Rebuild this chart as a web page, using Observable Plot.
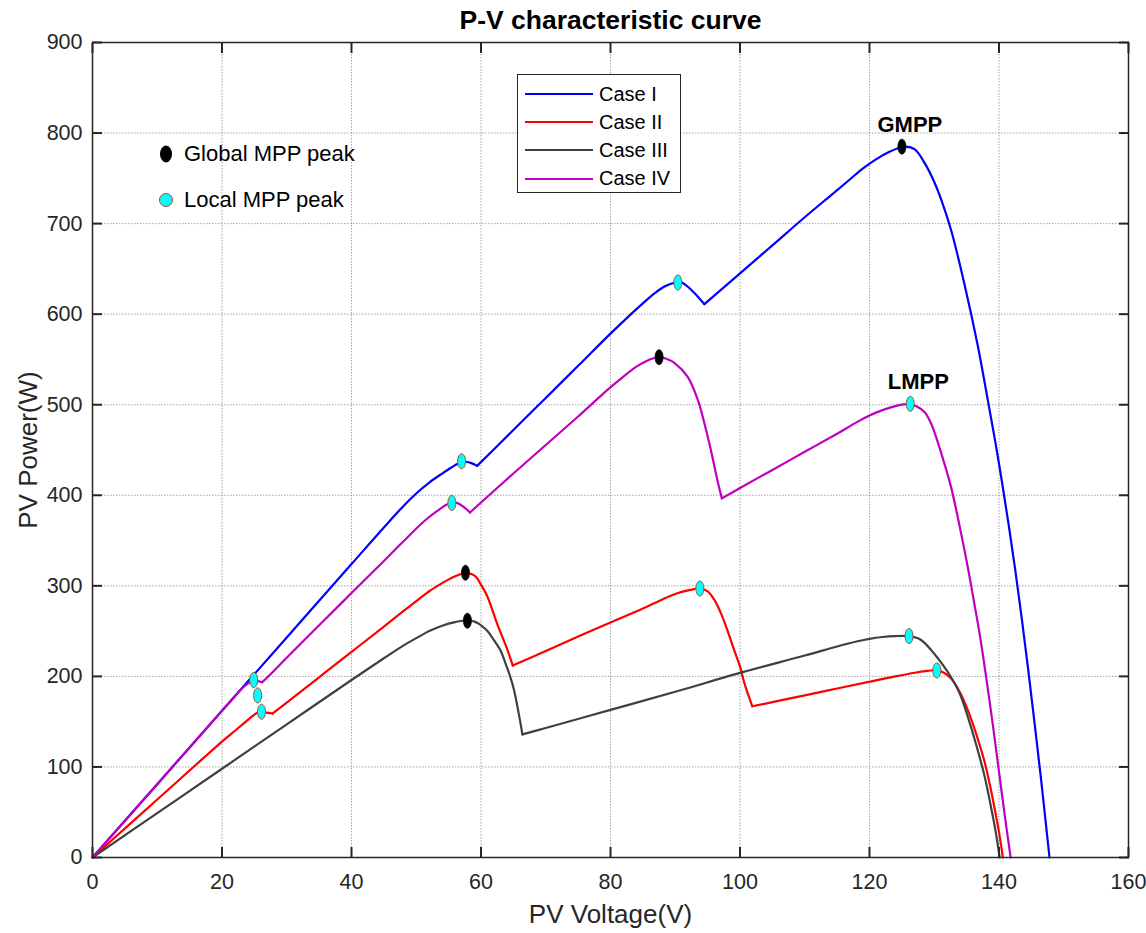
<!DOCTYPE html>
<html>
<head>
<meta charset="utf-8">
<script src="https://cdn.jsdelivr.net/npm/d3@7"></script>
<script src="https://cdn.jsdelivr.net/npm/@observablehq/plot@0.6"></script>
<style>
  html, body { margin: 0; padding: 0; background: #fff; }
  #wrap { position: relative; width: 1146px; height: 933px; font-family: "Liberation Sans", Arial, sans-serif; color: #000; }
  #legend { position: absolute; left: 517px; top: 74px; width: 164px; height: 119px; border: 1.3px solid #262626; background: #fff; box-sizing: border-box; }
  .lrow { position: absolute; left: 0; height: 24px; display: flex; align-items: center; font-size: 20px; }
  .lrow .sw { width: 68px; height: 2px; margin-left: 7px; margin-right: 6px; }
  #mpp { position: absolute; left: 155px; top: 140px; font-size: 22px; }
  .mrow { position: absolute; left: 0; display: flex; align-items: center; white-space: nowrap; height: 28px; }
  .mrow svg { margin-right: 7px; }
</style>
</head>
<body>
<div id="wrap"></div>
<script>
// ---------- data ----------
const caseNames = ["Case I", "Case II", "Case III", "Case IV"];
const xTicks = [0, 20, 40, 60, 80, 100, 120, 140, 160];
const yTicks = [0, 100, 200, 300, 400, 500, 600, 700, 800, 900];

const case1V = [0, 10, 20, 30, 40, 45, 48, 50, 52, 54, 55.5, 56.5, 57.5, 58.5, 59.4, 65, 70, 75, 80, 83, 85, 87, 88.5, 90, 90.5, 91, 92, 93, 94.5, 100, 105, 110, 114, 117, 119, 121, 123, 124.5, 125.5, 127, 128.5, 130, 131.1, 132.6, 134.7, 136.7, 138.3, 139.5, 140.5, 141.5, 142.5, 143.5, 144.5, 145.5, 146.5, 147.8];
const case1P = [0, 81, 162, 243, 324, 364.5, 388, 402, 414, 424, 431, 435, 437, 435.5, 432.5, 472, 507.5, 543, 578.5, 599, 612, 624, 631, 635, 635.5, 635, 630, 623, 611, 645, 676, 707, 731, 749, 761, 771, 779, 783.5, 785, 782, 767, 746, 726, 693, 632, 566, 504, 456, 413, 367, 318, 265, 208, 148, 86, 0];
const case1Breaks = [59.4, 94.5];

const case2V = [0, 10, 20, 22, 23.5, 24.5, 25.7, 26.8, 27.8, 30, 35, 40, 45, 48, 50.7, 52, 54, 55.5, 56.5, 57.5, 58.5, 59.2, 60.1, 61, 62.5, 64.1, 64.9, 70, 75, 80, 85, 88, 90, 92, 93.9, 95, 96, 97.1, 98.1, 99.1, 100, 100.7, 101.9, 110, 115, 119.7, 124, 127, 129, 130.4, 131.5, 132.6, 134, 135.2, 136.5, 137.8, 138.6, 139.3, 140, 140.6];
const case2P = [0, 64, 128, 140, 149, 155, 160.5, 160, 159, 171, 199, 227, 255, 272, 287, 294, 303, 309, 312, 314, 313, 310, 300, 288, 258, 229, 212, 228, 244, 259.5, 275, 285, 291, 295, 297, 294, 285, 269, 250, 229, 211, 192, 167, 179, 186.6, 193.6, 200, 204, 206, 207, 204, 197.6, 182, 162.5, 136, 105, 80, 55, 28, 0];
const case2Breaks = [27.8, 64.9, 101.9];

const case3V = [0, 10, 20, 30, 40, 45, 48, 50.7, 52, 54, 56, 57.9, 59, 59.7, 61, 62, 63, 63.8, 64.5, 65.1, 65.8, 66.4, 70, 80, 90, 99.6, 110, 115, 118, 120, 122, 124, 126.1, 127.5, 128.5, 130, 131.3, 132.6, 134, 135.2, 136.5, 137.8, 138.7, 139.5, 140.1];
const case3P = [0, 49, 98, 147, 196, 220, 234, 245, 250, 256, 260, 262, 260.5, 258, 250, 240, 229, 214, 200, 185, 160, 136, 143, 163, 183, 203, 223, 233, 238.5, 241.5, 243.5, 244.5, 244.5, 242, 237, 225, 213, 199, 180, 155, 124, 89, 58, 28, 0];
const case3Breaks = [66.4];

const case4V = [0, 10, 20, 22, 23, 24, 25, 26.2, 28, 30.6, 35, 40, 45, 48, 50.7, 52, 53.5, 54.5, 55.6, 56.5, 57.5, 58.3, 60, 65, 70, 75, 79.8, 82, 84, 85.5, 86.5, 87.5, 88.5, 89.9, 91.9, 93.5, 94.5, 95.5, 96.5, 97.2, 100, 105, 110, 115, 118, 120, 122, 124, 125.3, 126.3, 127.3, 128.5, 129.5, 130.3, 131.1, 132.6, 134.2, 135.2, 136.2, 137.1, 138, 139, 139.9, 140.9, 141.8];
const case4P = [0, 81, 162, 178, 186, 192, 195, 193.5, 206, 225, 256.5, 292, 327.5, 349, 368, 376, 384, 389, 392, 391, 386, 381, 392, 424, 455.5, 487, 518, 531, 542, 548, 551, 552.5, 551, 546, 531, 505, 479.5, 450, 417, 396.6, 408, 428, 448, 468, 480.5, 488, 494, 498.5, 500.3, 500.5, 498, 492, 479.5, 464, 446, 409, 356, 320, 280, 243, 200, 149, 100, 46, 0];
const case4Breaks = [26.2, 58.3, 97.2];

const globalV = [125.0, 87.5, 57.6, 57.9];
const globalP = [785, 552.5, 314.5, 261.5];
const localV = [24.9, 25.5, 26.1, 57.0, 55.5, 90.4, 93.8, 126.3, 126.1, 130.4];
const localP = [196, 179, 161, 437.5, 391.5, 635, 297, 501, 244.5, 206.5];

const peakLabels = ["GMPP", "LMPP"];
const peakLabelV = [125.0, 126.3];
const peakLabelP = [785, 501];

// ---------- build tables ----------
const seriesV = [case1V, case2V, case3V, case4V];
const seriesP = [case1P, case2P, case3P, case4P];
const seriesBreaks = [case1Breaks, case2Breaks, case3Breaks, case4Breaks];
const rows = [];
caseNames.forEach((name, i) => {
  const br = seriesBreaks[i];
  seriesV[i].forEach((v, j) => {
    const p = seriesP[i][j];
    const seg = br.filter(b => b < v).length;
    rows.push({ name, key: name + "-" + seg, v, p });
    if (br.includes(v)) rows.push({ name, key: name + "-" + (seg + 1), v, p });
  });
});
const globalPts = globalV.map((v, i) => ({ v, p: globalP[i] }));
const localPts = localV.map((v, i) => ({ v, p: localP[i] }));
const labelPts = peakLabels.map((t, i) => ({ t, v: peakLabelV[i], p: peakLabelP[i] }));

const colors = ["#0000ff", "#ff0000", "#404040", "#bf00bf"];

function ellipse(rx, ry) {
  const k = 0.5523;
  return {
    draw(ctx) {
      ctx.moveTo(rx, 0);
      ctx.bezierCurveTo(rx, k * ry, k * rx, ry, 0, ry);
      ctx.bezierCurveTo(-k * rx, ry, -rx, k * ry, -rx, 0);
      ctx.bezierCurveTo(-rx, -k * ry, -k * rx, -ry, 0, -ry);
      ctx.bezierCurveTo(k * rx, -ry, rx, -k * ry, rx, 0);
      ctx.closePath();
    }
  };
}

const gridStyle = { stroke: "#7f7f7f", strokeOpacity: 0.7, strokeDasharray: "1.5,1.5", strokeWidth: 1 };

const chart = Plot.plot({
  width: 1146,
  height: 933,
  marginLeft: 92,
  marginRight: 18,
  marginTop: 42,
  marginBottom: 76,
  style: { fontFamily: "'Liberation Sans', Arial, sans-serif", background: "white", color: "#262626", fontSize: "21px" },
  x: { domain: [0, 160], label: null },
  y: { domain: [0, 900], label: null },
  marks: [
    Plot.gridX(xTicks, gridStyle),
    Plot.gridY(yTicks, gridStyle),
    Plot.line(rows, { x: "v", y: "p", z: "key", stroke: d => colors[caseNames.indexOf(d.name)], strokeWidth: 2.2, curve: "catmull-rom" }),
    Plot.dot(globalPts, { x: "v", y: "p", symbol: ellipse(4, 7.5), fill: "black", stroke: "black", strokeWidth: 0.8 }),
    Plot.dot(localPts, { x: "v", y: "p", symbol: ellipse(4, 7.5), fill: "#00ffff", stroke: "#a0522d", strokeWidth: 1 }),
    Plot.text(labelPts, { x: "v", y: "p", text: "t", dx: 8, dy: -22, fontWeight: "bold", fontSize: 22, fill: "black" }),
    Plot.axisX(xTicks, { anchor: "bottom", tickSize: -10, tickPadding: 26, fontSize: 21.5, stroke: "#262626", strokeWidth: 2 }),
    Plot.axisX(xTicks, { anchor: "top", tickSize: -10, tickFormat: () => "", stroke: "#262626", strokeWidth: 2 }),
    Plot.axisY(yTicks, { anchor: "left", tickSize: -10, tickPadding: 20, fontSize: 21.5, stroke: "#262626", strokeWidth: 2 }),
    Plot.axisY(yTicks, { anchor: "right", tickSize: -10, tickFormat: () => "", stroke: "#262626", strokeWidth: 2 }),
    Plot.frame({ stroke: "#262626", strokeWidth: 1.5 }),
    Plot.text(["P-V characteristic curve"], { frameAnchor: "top", lineAnchor: "middle", dy: -22, fontWeight: "bold", fontSize: 26.5, fill: "black" }),
    Plot.text(["PV Voltage(V)"], { frameAnchor: "bottom", lineAnchor: "middle", dy: 57, fontSize: 26, fill: "#262626" }),
    Plot.text(["PV Power(W)"], { frameAnchor: "left", textAnchor: "middle", lineAnchor: "middle", dx: -64, rotate: -90, fontSize: 26, fill: "#262626" })
  ]
});

const wrap = document.getElementById("wrap");
wrap.appendChild(chart);

// curve legend
const legend = document.createElement("div");
legend.id = "legend";
caseNames.forEach((name, i) => {
  const r = document.createElement("div");
  r.className = "lrow";
  r.style.top = (7 + i * 28.2) + "px";
  r.innerHTML = `<span class="sw" style="background:${colors[i]}"></span><span>${name}</span>`;
  legend.appendChild(r);
});
wrap.appendChild(legend);

// marker legend
const mpp = document.createElement("div");
mpp.id = "mpp";
const mppItems = [
  { label: "Global MPP peak", fill: "#000", stroke: "#000", rx: 5.5, ry: 8 },
  { label: "Local MPP peak", fill: "#00ffff", stroke: "#a0522d", rx: 6.5, ry: 6.5 }
];
mppItems.forEach((m, i) => {
  const r = document.createElement("div");
  r.className = "mrow";
  r.style.top = (i * 46) + "px";
  r.innerHTML = `<svg width="22" height="20" viewBox="-11 -10 22 20"><ellipse rx="${m.rx}" ry="${m.ry}" fill="${m.fill}" stroke="${m.stroke}" stroke-width="1"/></svg><span>${m.label}</span>`;
  mpp.appendChild(r);
});
wrap.appendChild(mpp);
</script>
</body>
</html>
